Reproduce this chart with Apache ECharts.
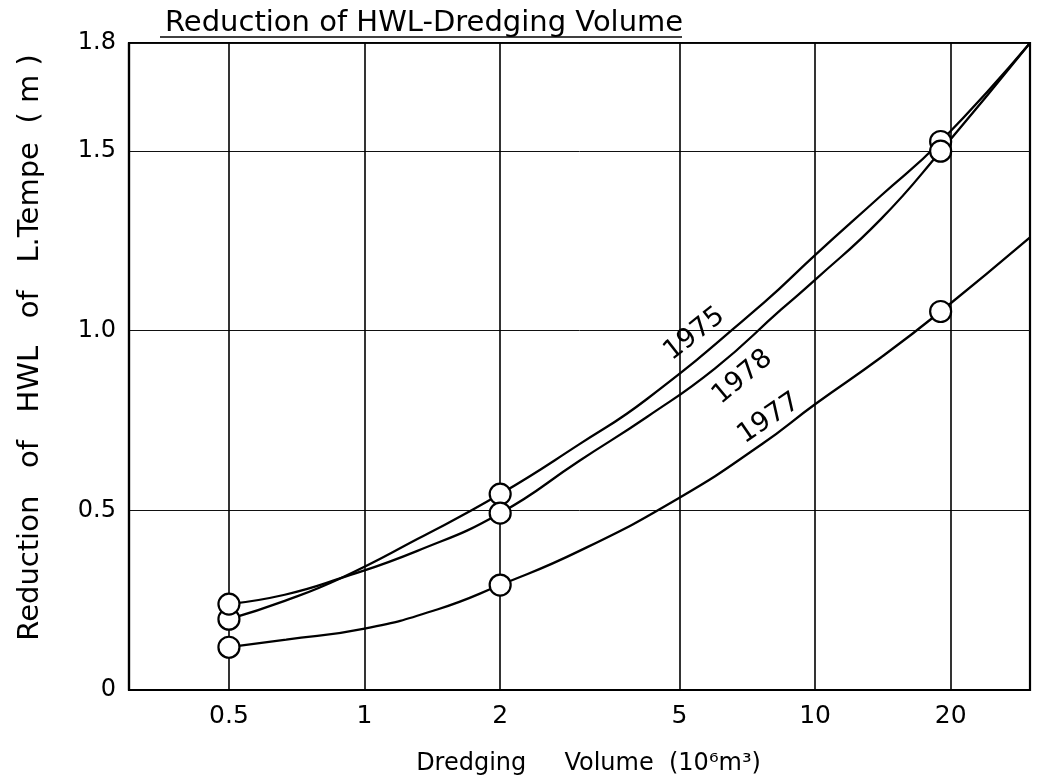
<!DOCTYPE html>
<html>
<head>
<meta charset="utf-8">
<script src="https://cdn.jsdelivr.net/npm/echarts@6/dist/echarts.min.js"></script>
<style>
html,body{margin:0;padding:0;background:#fff;}
#chart{width:1038px;height:784px;}
</style>
</head>
<body>
<div id="chart"></div>
<script>
// ---- Axis ticks ----
const xTicks = [0.5, 1, 2, 5, 10, 20];
const xTickLabels = ['0.5', '1', '2', '5', '10', '20'];
const yTicks = [0, 0.5, 1, 1.5, 1.8];
const yTickLabels = ['0', '0.5', '1.0', '1.5', '1.8'];

// ---- Measured points (circles) ----
const measuredX = [0.5, 2, 19];
const points1975 = [0.197, 0.545, 1.526];
const points1978 = [0.239, 0.492, 1.499];
const points1977 = [0.119, 0.292, 1.053];

// ---- Fitted curves ----
const curve1975X = [0.5, 0.665, 0.885, 1.31, 2, 3, 4.25, 7.7, 10, 14, 19, 30];
const curve1975Y = [0.197, 0.248, 0.311, 0.42, 0.545, 0.684, 0.811, 1.078, 1.21, 1.375, 1.526, 1.80];
const curve1978X = [0.5, 0.665, 0.885, 1.31, 2, 3, 4.25, 6, 8.4, 10, 14, 19, 30];
const curve1978Y = [0.239, 0.265, 0.311, 0.387, 0.492, 0.638, 0.761, 0.895, 1.058, 1.141, 1.31, 1.499, 1.80];
const curve1977X = [0.5, 0.67, 1, 1.45, 2, 3, 5, 7.6, 10, 14, 19, 30];
const curve1977Y = [0.119, 0.140, 0.171, 0.224, 0.292, 0.387, 0.535, 0.683, 0.795, 0.925, 1.053, 1.259];

const years = ['1975', '1978', '1977'];

function zip(xs, ys) { return xs.map((x, i) => [x, ys[i]]); }

const FONT = 'DejaVu Sans';
const chart = echarts.init(document.getElementById('chart'), null, {renderer: 'canvas'});

function curveSeries(name, xs, ys, labelCoord, rot) {
  return {
    name: name, type: 'line', data: zip(xs, ys), smooth: 0.5,
    symbol: 'none', z: 3,
    lineStyle: {color: '#000', width: 2.3},
    markPoint: {
      symbol: 'circle', symbolSize: 1, silent: true,
      itemStyle: {color: 'rgba(0,0,0,0)'},
      label: {show: true, position: 'inside', rotate: rot, color: '#000',
              fontFamily: FONT, fontSize: 27, formatter: name},
      data: [{coord: labelCoord}]
    }
  };
}
function pointSeries(name, ys) {
  return {
    name: name + ' pts', type: 'scatter', data: zip(measuredX, ys), z: 5,
    symbol: 'circle', symbolSize: 21,
    itemStyle: {color: '#fff', borderColor: '#000', borderWidth: 2.2, opacity: 1}
  };
}

chart.setOption({
  animation: false,
  backgroundColor: '#fff',
  title: {
    text: 'Reduction of HWL-Dredging Volume',
    left: 165, top: 9, padding: 0,
    textStyle: {fontFamily: FONT, fontSize: 29, fontWeight: 'normal', color: '#000'}
  },
  graphic: [{
    type: 'line', shape: {x1: 160, y1: 37, x2: 682, y2: 37},
    style: {stroke: '#000', lineWidth: 1.5}
  }],
  grid: {left: 129, right: 8, top: 43, bottom: 94, show: true,
         borderColor: '#000', borderWidth: 2.2, backgroundColor: 'transparent'},
  xAxis: {
    type: 'log', logBase: 10, min: 0.3, max: 30,
    name: 'Dredging     Volume  (10\u2076m\u00b3)',
    nameLocation: 'middle', nameGap: 62,
    nameTextStyle: {fontFamily: FONT, fontSize: 24, color: '#000', padding: [0, 0, 0, 18]},
    axisLine: {show: true, lineStyle: {color: '#000', width: 2.2}},
    axisTick: {show: false, customValues: xTicks},
    axisLabel: {customValues: xTicks, margin: 14, color: '#000', fontFamily: FONT, fontSize: 25,
      formatter: function (v) { const i = xTicks.findIndex(t => Math.abs(t - v) < 1e-6); return i >= 0 ? xTickLabels[i] : ''; }},
    splitLine: {show: true, lineStyle: {color: '#000', width: 1.6}},
    minorSplitLine: {show: false}
  },
  yAxis: {
    type: 'value', min: 0, max: 1.8,
    name: 'Reduction   of   HWL   of   L.Tempe  ( m )',
    nameLocation: 'middle', nameRotate: 90, nameGap: 84,
    nameTextStyle: {fontFamily: FONT, fontSize: 29, color: '#000', padding: [0, 0, 0, 38]},
    axisLine: {show: true, lineStyle: {color: '#000', width: 2.2}},
    axisTick: {show: false, customValues: yTicks},
    axisLabel: {customValues: yTicks, margin: 13, color: '#000', fontFamily: FONT, fontSize: 24,
      formatter: function (v) { const i = yTicks.findIndex(t => Math.abs(t - v) < 1e-6); return i >= 0 ? yTickLabels[i] : ''; }},
    splitLine: {show: true, lineStyle: {color: '#111', width: 1}}
  },
  series: [
    curveSeries(years[0], curve1975X, curve1975Y, [5.4, 0.99], 38),
    curveSeries(years[1], curve1978X, curve1978Y, [6.9, 0.87], 40),
    curveSeries(years[2], curve1977X, curve1977Y, [7.9, 0.755], 34),
    pointSeries(years[0], points1975),
    pointSeries(years[1], points1978),
    pointSeries(years[2], points1977)
  ]
});
</script>
</body>
</html>
